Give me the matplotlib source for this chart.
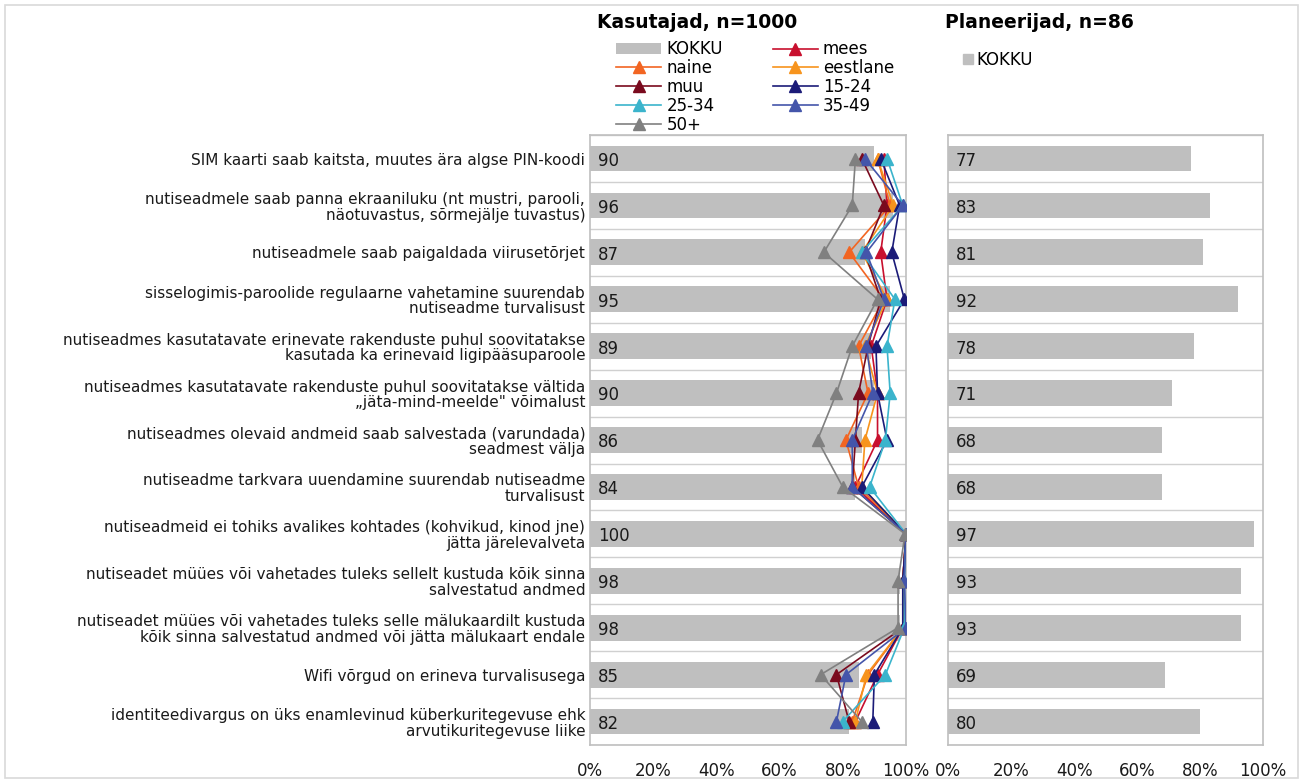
import matplotlib
matplotlib.use("Agg")
import matplotlib.pyplot as plt
from matplotlib.patches import Patch, Rectangle
from matplotlib.lines import Line2D
import numpy as np

# andmed
categories = [
    "SIM kaarti saab kaitsta, muutes ära algse PIN-koodi",
    "nutiseadmele saab panna ekraaniluku (nt mustri, parooli,\nnäotuvastus, sõrmejälje tuvastus)",
    "nutiseadmele saab paigaldada viirusetõrjet",
    "sisselogimis-paroolide regulaarne vahetamine suurendab\nnutiseadme turvalisust",
    "nutiseadmes kasutatavate erinevate rakenduste puhul soovitatakse\nkasutada ka erinevaid ligipääsuparoole",
    "nutiseadmes kasutatavate rakenduste puhul soovitatakse vältida\n„jäta-mind-meelde\" võimalust",
    "nutiseadmes olevaid andmeid saab salvestada (varundada)\nseadmest välja",
    "nutiseadme tarkvara uuendamine suurendab nutiseadme\nturvalisust",
    "nutiseadmeid ei tohiks avalikes kohtades (kohvikud, kinod jne)\njätta järelevalveta",
    "nutiseadet müües või vahetades tuleks sellelt kustuda kõik sinna\nsalvestatud andmed",
    "nutiseadet müües või vahetades tuleks selle mälukaardilt kustuda\nkõik sinna salvestatud andmed või jätta mälukaart endale",
    "Wifi võrgud on erineva turvalisusega",
    "identiteedivargus on üks enamlevinud küberkuritegevuse ehk\narvutikuritegevuse liike",
]

kokku_kasutajad = [90, 96, 87, 95, 89, 90, 86, 84, 100, 98, 98, 85, 82]
kokku_planeerijad = [77, 83, 81, 92, 78, 71, 68, 68, 97, 93, 93, 69, 80]

mees = [93, 94, 92, 94, 89, 91, 91, 84, 100, 99, 99, 91, 84]
naine = [91, 95, 82, 93, 85, 88, 81, 85, 100, 99, 99, 88, 83]
eestlane = [91, 96, 86, 94, 87, 91, 87, 86, 100, 99, 99, 87.5, 84]
muu = [86, 93, 87, 92, 88, 85, 84, 83, 100, 99, 99, 78, 82]
g15_24 = [92, 98, 95.5, 99.5, 90.5, 91, 94, 86, 100, 99, 99, 90, 89.5]
g25_34 = [94, 99, 86, 96.5, 94, 95, 93.5, 88.5, 100, 99.5, 99.5, 93.5, 80]
g35_49 = [87, 99, 87.5, 93, 87.5, 89.5, 83, 83, 100, 99.5, 100, 81, 78]
g50 = [84, 83, 74, 91, 83, 78, 72, 80, 99.7, 97.5, 97.5, 73, 86]

groups = [
    ("mees", mees, "#C8102E"),
    ("naine", naine, "#F26522"),
    ("eestlane", eestlane, "#F7941D"),
    ("muu", muu, "#7A0A1E"),
    ("15-24", g15_24, "#1B1B78"),
    ("25-34", g25_34, "#3BB4CC"),
    ("35-49", g35_49, "#4455AA"),
    ("50+", g50, "#808080"),
]

bar_col = "#BFBFBF"
frame_col = "#BFBFBF"
txt_col = "#1A1A1A"

fig = plt.figure(figsize=(13.03, 7.83), dpi=100)
fig.patches.append(Rectangle((0.004, 0.006), 0.992, 0.988, transform=fig.transFigure,
                             fill=False, edgecolor="#D9D9D9", linewidth=1.2))

ax1 = fig.add_axes([0.4528, 0.0485, 0.2425, 0.779])
ax2 = fig.add_axes([0.7276, 0.0485, 0.2418, 0.779])

n = len(categories)
y = np.arange(n)

for ax, vals in [(ax1, kokku_kasutajad), (ax2, kokku_planeerijad)]:
    ax.barh(y, vals, height=0.55, color=bar_col, zorder=1)
    for yi, v in zip(y, vals):
        ax.text(2.5, yi + 0.05, str(v), va="center", ha="left", fontsize=12, color=txt_col, zorder=5)
    for b in np.arange(-0.5, n, 1.0):
        ax.axhline(b, color="#D0D0D0", linewidth=1, zorder=0)
    ax.set_xlim(0, 100)
    ax.set_ylim(n - 0.5, -0.5)
    ax.set_xticks([0, 20, 40, 60, 80, 100])
    ax.set_xticklabels(["0%", "20%", "40%", "60%", "80%", "100%"], fontsize=12, color=txt_col)
    ax.tick_params(axis="x", length=0, pad=12)
    ax.tick_params(axis="y", length=0)
    for s in ax.spines.values():
        s.set_color(frame_col)
        s.set_linewidth(1.2)

for name, vals, col in groups:
    ax1.plot(vals, y, color=col, marker="^", markersize=9, linewidth=1.2, zorder=3)

ax1.set_yticks(y)
ax1.set_yticklabels(categories, fontsize=11, color=txt_col, linespacing=1.05)
ax2.set_yticks([])

fig.text(0.535, 0.971, "Kasutajad, n=1000", fontsize=13.5, fontweight="bold", ha="center", va="center", color="black")
fig.text(0.798, 0.971, "Planeerijad, n=86", fontsize=13.5, fontweight="bold", ha="center", va="center", color="black")

# legend: column-major order in matplotlib
h = {name: Line2D([], [], color=col, marker="^", markersize=9, linewidth=1.2) for name, _, col in groups}
h["KOKKU"] = Patch(facecolor=bar_col, edgecolor="none")
order = ["KOKKU", "naine", "muu", "25-34", "50+", "mees", "eestlane", "15-24", "35-49"]
fig.legend([h[k] for k in order], order, ncol=2, loc="upper left", bbox_to_anchor=(0.468, 0.957),
           frameon=False, fontsize=12, handlelength=2.7, handletextpad=0.3, columnspacing=3.0,
           labelspacing=0.05, borderaxespad=0)

fig.legend([Line2D([], [], color=bar_col, marker="s", linestyle="none", markersize=7)], ["KOKKU"],
           loc="upper left", bbox_to_anchor=(0.733, 0.943), frameon=False, fontsize=12,
           handlelength=0.8, handletextpad=0.1, borderaxespad=0)

fig.savefig("out.png", dpi=100)
